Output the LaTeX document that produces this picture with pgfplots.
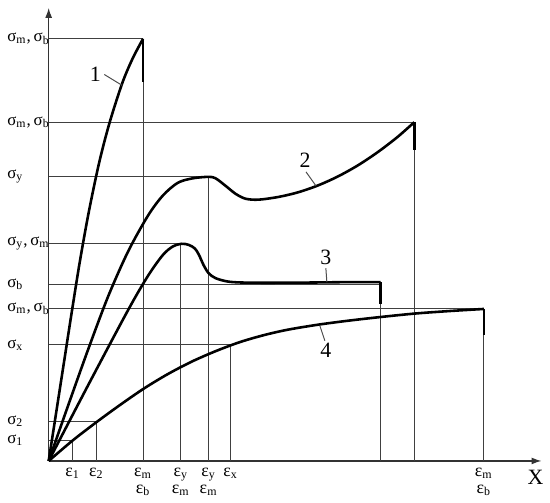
\documentclass[border=0pt]{standalone}
\usepackage{pgfplots}
\pgfplotsset{compat=1.18}
\usepackage{fontspec}
\setmainfont{Liberation Serif}
\usetikzlibrary{arrows.meta}

\newcommand{\sig}[1]{σ\textsubscript{#1}}
\newcommand{\eps}[1]{ε\textsubscript{#1}}

\begin{document}
\begin{tikzpicture}
\begin{axis}[
    x=0.5pt, y=0.5pt,
    xmin=0, xmax=496, ymin=0, ymax=456,
    axis lines=left,
    axis line style={draw=black!80, line width=0.6pt, -{Latex[length=5pt,width=3.5pt]}},
    major tick length=0pt,
    tick style={draw=none},
    xtick={24,48,95,133,161,183,438},
    xticklabels={{\eps{1}},{\eps{2}},{\eps{m}\\\eps{b}},{\eps{y}\\\eps{m}},{\eps{y}\\\eps{m}},{\eps{x}},{\eps{m}\\\eps{b}}},
    xticklabel style={align=center, font=\fontsize{9}{8.5}\selectfont},
    ytick={21,40,117,153,178,219,286,341,425},
    yticklabels={{\sig{1}},{\sig{2}},{\sig{x}},{\sig{m},\,\sig{b}},{\sig{b}},{\sig{y},\,\sig{m}},{\sig{y}},{\sig{m},\,\sig{b}},{\sig{m},\,\sig{b}}},
    yticklabel style={anchor=west, inner xsep=0pt, xshift=-21pt, font=\fontsize{8.5}{10}\selectfont},
    clip=false,
    unbounded coords=jump,
]
% invisible frame for the page size
\path (axis cs:-49,-41) rectangle (axis cs:501,464);

% guide lines
\addplot[draw=black!75, line width=0.5pt] coordinates {
    (0,425) (95,425) (nan,nan)
    (0,341) (368,341) (nan,nan)
    (0,286) (161,286) (nan,nan)
    (0,219) (133,219) (nan,nan)
    (0,178) (334,178) (nan,nan)
    (0,153) (438,153) (nan,nan)
    (0,117) (183,117) (nan,nan)
    (0,40) (48,40) (nan,nan)
    (0,21) (24,21) (nan,nan)
    (24,0) (24,21) (nan,nan)
    (48,0) (48,40) (nan,nan)
    (95,0) (95,425) (nan,nan)
    (133,0) (133,219) (nan,nan)
    (161,0) (161,286) (nan,nan)
    (183,0) (183,117) (nan,nan)
    (334,0) (334,180) (nan,nan)
    (368,0) (368,341) (nan,nan)
    (438,0) (438,153)
};

% curve 1
\addplot[black, line width=1.3pt, smooth] coordinates {
    (0,0) (7.75,50) (15.5,100) (23.25,150) (31.25,200) (40.25,250)
    (50.75,300) (61.15,340) (73.95,380) (84.45,405) (95,425)
};
\addplot[black, line width=1.3pt] coordinates {(95,425) (95,381)};

% curve 2
\addplot[black, line width=1.3pt, smooth] coordinates {
    (0,0) (20,57) (40,113) (60,166) (80,211) (100,247) (115,267.25)
    (130,280) (145,284.5) (161,286) (168,284.5) (178,277) (188,269)
    (198,264) (211,263) (231,265.7) (251,270.4) (271,277.3) (291,286.3)
    (311,297.4) (331,310.7) (351,326) (368,341)
};
\addplot[black, line width=1.3pt] coordinates {(368,341) (368,313)};

% curve 3
\addplot[black, line width=1.3pt, smooth] coordinates {
    (0,0) (40,76.8) (80,152) (100,186.4) (115,207.4) (125,215.9)
    (134,218.6) (141,217.5) (147,214) (151,208) (156,197) (161,189)
    (168,184) (181,180.5) (201,179.5) (251,179.5) (301,180) (334,180)
};
\addplot[black, line width=1.3pt] coordinates {(334,180) (334,158)};

% curve 4
\addplot[black, line width=1.3pt, smooth] coordinates {
    (0,0) (24,20.5) (48,39) (72,56.5) (96,73) (120,87.5) (144,100)
    (168,110.5) (192,119.5) (216,126.5) (240,132) (270,137) (300,141)
    (335,145) (370,148.5) (405,151) (438,153)
};
\addplot[black, line width=1.3pt] coordinates {(438,153) (438,127)};

% leaders
\addplot[draw=black!70, line width=0.5pt] coordinates {
    (56,389) (74,378) (nan,nan)
    (259,291) (269,277) (nan,nan)
    (279,194) (280,180) (nan,nan)
    (278,121) (273,136)
};

\node[font=\fontsize{11}{12}\selectfont] at (axis cs:47,389) {1};
\node[font=\fontsize{11}{12}\selectfont] at (axis cs:258,303) {2};
\node[font=\fontsize{11}{12}\selectfont] at (axis cs:279,205) {3};
\node[font=\fontsize{11}{12}\selectfont] at (axis cs:279,111) {4};
\node[font=\fontsize{11}{12}\selectfont] at (axis cs:490,-16) {X};
\end{axis}
\end{tikzpicture}
\end{document}
